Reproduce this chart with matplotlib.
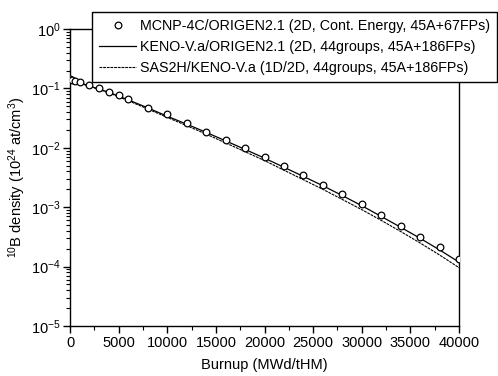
import matplotlib
matplotlib.use("Agg")
import matplotlib.pyplot as plt
from matplotlib.ticker import MultipleLocator, LogLocator, NullFormatter

plt.rcParams['font.family'] = ['Liberation Sans', 'DejaVu Sans']
plt.rcParams['mathtext.fontset'] = 'custom'
plt.rcParams['mathtext.rm'] = 'Liberation Sans'
plt.rcParams['mathtext.it'] = 'Liberation Sans:italic'
plt.rcParams['mathtext.bf'] = 'Liberation Sans:bold'

# MCNP-4C/ORIGEN2.1 points
mcnp_x = [0, 200, 500, 1000, 2000, 3000, 4000, 5000, 6000, 8000, 10000, 12000, 14000,
          16000, 18000, 20000, 22000, 24000, 26000, 28000, 30000, 32000, 34000, 36000,
          38000, 40000]
mcnp_y = [0.145, 0.140, 0.133, 0.126, 0.112, 0.100, 0.088, 0.076, 0.066, 0.047, 0.037,
          0.026, 0.0187, 0.0134, 0.0098, 0.0070, 0.0049, 0.0035, 0.0024, 0.00167,
          0.00112, 0.00073, 0.00049, 0.00032, 0.00021, 0.000133]

# KENO-V.a/ORIGEN2.1 line
keno_x = [0, 1000, 2000, 4000, 6000, 8000, 10000, 12000, 14000, 16000, 18000, 20000,
          22000, 24000, 26000, 28000, 30000, 32000, 34000, 36000, 38000, 40000]
keno_y = [0.145, 0.125, 0.110, 0.086, 0.064, 0.047, 0.034, 0.025, 0.0182, 0.0131, 0.0094,
          0.0067, 0.0047, 0.0033, 0.0023, 0.00157, 0.00106, 0.00070, 0.00046, 0.00030,
          0.000191, 0.000119]

# SAS2H/KENO-V.a line
sas_x = [0, 1000, 2000, 4000, 6000, 8000, 10000, 12000, 14000, 16000, 18000, 20000,
         22000, 24000, 26000, 28000, 30000, 32000, 34000, 36000, 38000, 40000]
sas_y = [0.143, 0.123, 0.108, 0.084, 0.062, 0.045, 0.0325, 0.0236, 0.0170, 0.0121, 0.0086,
         0.0061, 0.0042, 0.0029, 0.0020, 0.00135, 0.00091, 0.00060, 0.00039, 0.00025,
         0.000157, 0.000096]

labels = ["MCNP-4C/ORIGEN2.1 (2D, Cont. Energy, 45A+67FPs)",
          "KENO-V.a/ORIGEN2.1 (2D, 44groups, 45A+186FPs)",
          "SAS2H/KENO-V.a (1D/2D, 44groups, 45A+186FPs)"]

fig = plt.figure(figsize=(4.98, 3.76), dpi=100)
ax = fig.add_axes([70/498, 50/376, (459-70)/498, (326-29)/376])

l1, = ax.plot(mcnp_x, mcnp_y, linestyle='none', marker='o', markersize=4.8,
              markerfacecolor='white', markeredgecolor='black', markeredgewidth=0.9,
              label=labels[0], zorder=3)
l2, = ax.plot(keno_x, keno_y, color='black', lw=0.9, label=labels[1])
l3, = ax.plot(sas_x, sas_y, color='black', lw=0.8, linestyle=(0, (2.5, 0.8)),
              label=labels[2])

ax.set_yscale('log')
ax.set_xlim(0, 40000)
ax.set_ylim(1e-5, 1)
ax.xaxis.set_major_locator(MultipleLocator(5000))
ax.xaxis.set_minor_locator(MultipleLocator(2500))
ax.yaxis.set_major_locator(LogLocator(base=10, numticks=10))
ax.yaxis.set_minor_locator(LogLocator(base=10, subs=range(2, 10), numticks=20))
ax.yaxis.set_minor_formatter(NullFormatter())
ax.tick_params(axis='both', which='major', direction='out', length=5, width=1,
               labelsize=10.5, pad=2)
ax.tick_params(axis='both', which='minor', direction='out', length=3, width=0.8)
ax.tick_params(axis='y', right=False)
ax.tick_params(axis='x', top=False)
for s in ax.spines.values():
    s.set_linewidth(1.0)

ax.set_xlabel("Burnup (MWd/tHM)", fontsize=10.5, labelpad=6)
ax.set_ylabel("$^{10}$B density (10$^{24}$ at/cm$^{3}$)", fontsize=10.5, labelpad=2)

leg = ax.legend(handles=[l1, l2, l3], loc='upper right',
                bbox_to_anchor=(497/498, 1 - 12/376), bbox_transform=fig.transFigure,
                fontsize=10.3, frameon=True, fancybox=False, framealpha=1,
                edgecolor='black', handlelength=2.6, handletextpad=0.25,
                borderpad=0.5, labelspacing=0.47, borderaxespad=0)
leg.get_frame().set_linewidth(1.0)
leg.set_zorder(5)

fig.savefig("out.png", dpi=100)
